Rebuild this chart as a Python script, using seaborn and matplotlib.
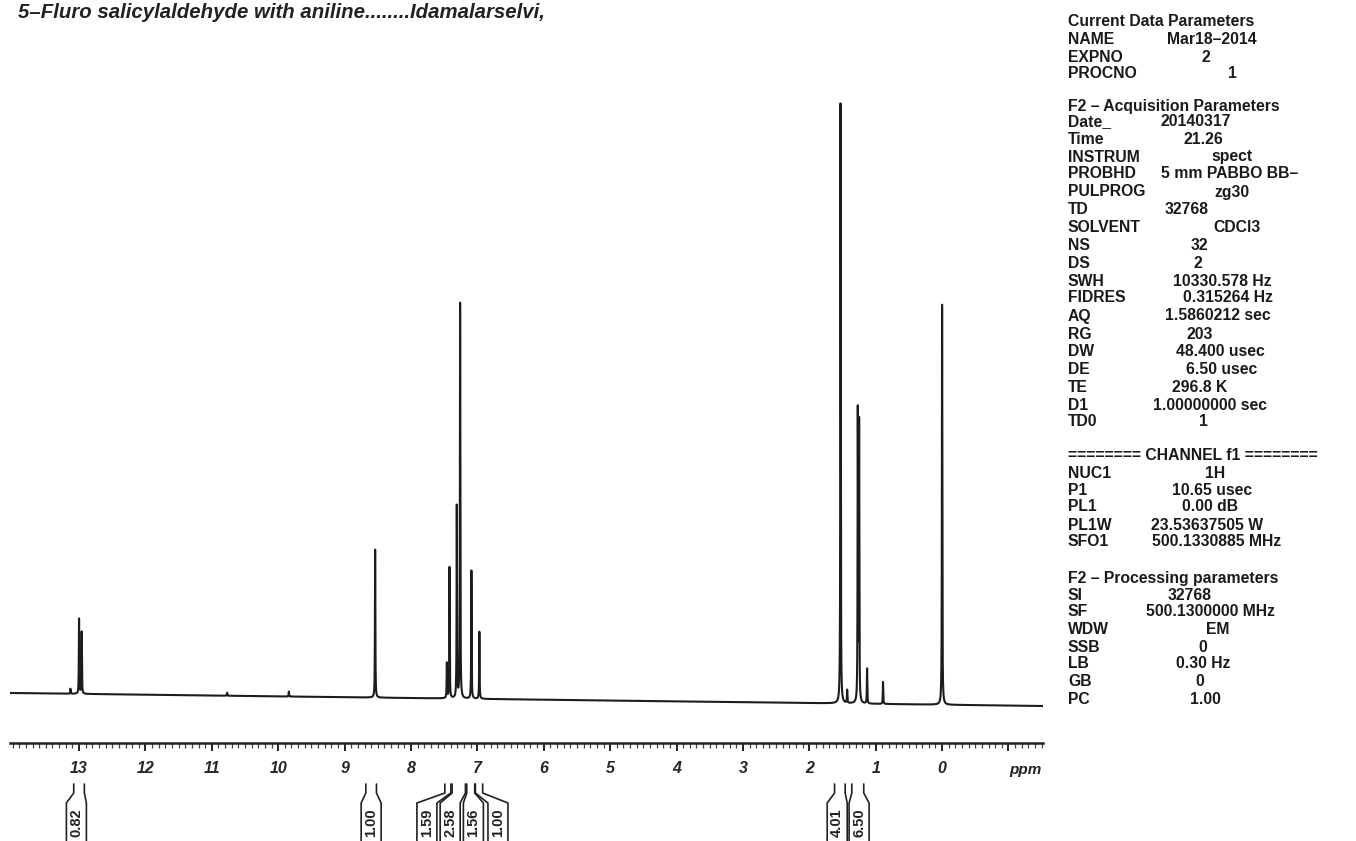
import numpy as np
import pandas as pd
import matplotlib
matplotlib.use('Agg')
import matplotlib.pyplot as plt
import matplotlib.transforms as mtransforms
from matplotlib.ticker import MultipleLocator
import seaborn as sns

sns.set_style('white')
plt.rcParams['font.family'] = ['Liberation Sans', 'DejaVu Sans']

title = '5\u2013Fluro salicylaldehyde with aniline........Idamalarselvi,'

# peak list: shift (ppm) and height (arb. units)
peak_ppm = [13.13, 13.00, 12.96, 10.77, 9.84, 8.54, 7.46, 7.42, 7.31, 7.26,
            7.09, 6.97, 1.53, 1.43, 1.27, 1.25, 1.13, 0.89, 0.00]
peak_height = [5, 75, 62, 3, 5, 148, 35, 131, 192, 395,
               128, 67, 600, 13, 290, 278, 35, 22, 400]
peak_hwhm = 0.0035
baseline_ends = [5, -8]

major_ticks = [13, 12, 11, 10, 9, 8, 7, 6, 5, 4, 3, 2, 1, 0, -1]
major_labels = ['13', '12', '11', '10', '9', '8', '7', '6', '5', '4', '3', '2', '1', '0', '']

# integrals: label, region start/end (ppm), label centre (ppm)
integ_labels = ['0.82', '1.00', '1.59', '2.58', '1.56', '1.00', '4.01', '6.50']
integ_from = [13.08, 8.68, 7.49, 7.38, 7.16, 7.03, 1.62, 1.36]
integ_to = [12.92, 8.52, 7.40, 7.18, 7.04, 6.92, 1.46, 1.18]
integ_pos = [13.04, 8.60, 7.76, 7.41, 7.06, 6.69, 1.58, 1.25]

# acquisition / processing parameter panel
param_rows = [
    ('Current Data Parameters', ''),
    ('NAME', 'Mar18\u20132014'), ('EXPNO', '2'), ('PROCNO', '1'),
    ('F2 \u2013 Acquisition Parameters', ''),
    ('Date_', '20140317'), ('Time', '21.26'), ('INSTRUM', 'spect'),
    ('PROBHD', '5 mm PABBO BB\u2013'), ('PULPROG', 'zg30'), ('TD', '32768'),
    ('SOLVENT', 'CDCl3'), ('NS', '32'), ('DS', '2'),
    ('SWH', '10330.578 Hz'), ('FIDRES', '0.315264 Hz'), ('AQ', '1.5860212 sec'),
    ('RG', '203'), ('DW', '48.400 usec'), ('DE', '6.50 usec'), ('TE', '296.8 K'),
    ('D1', '1.00000000 sec'), ('TD0', '1'),
    ('======== CHANNEL f1 ========', ''),
    ('NUC1', '1H'), ('P1', '10.65 usec'), ('PL1', '0.00 dB'),
    ('PL1W', '23.53637505 W'), ('SFO1', '500.1330885 MHz'),
    ('F2 \u2013 Processing parameters', ''),
    ('SI', '32768'), ('SF', '500.1300000 MHz'), ('WDW', 'EM'), ('SSB', '0'),
    ('LB', '0.30 Hz'), ('GB', '0'), ('PC', '1.00'),
]
param_y = [22, 40, 57, 74, 106, 122, 140, 157, 174, 192, 210, 228, 245, 263,
           281, 298, 316, 334, 352, 369, 387, 405, 422, 456, 473, 490, 507,
           525, 542, 578, 595, 612, 630, 647, 664, 682, 699]
param_xc = [0, 1212, 1206, 1232, 0, 1196, 1203, 1232, 1230, 1232, 1187, 1237,
            1199, 1198, 1222, 1228, 1218, 1200, 1220, 1222, 1200, 1210, 1203,
            0, 1215, 1212, 1210, 1207, 1217, 0, 1190, 1211, 1218, 1203, 1203,
            1200, 1205]

W, H = 1356, 841
xlo, xhi = 14.04, -1.52

ppm = np.linspace(xlo, xhi, 31121)
pk = np.array(peak_ppm)[None, :]
hh = np.array(peak_height)[None, :]
lor = hh * peak_hwhm ** 2 / ((ppm[:, None] - pk) ** 2 + peak_hwhm ** 2)
spec = np.linspace(baseline_ends[0], baseline_ends[1], ppm.size) + lor.sum(axis=1)
df = pd.DataFrame({'ppm': ppm, 'intensity': spec})

fig = plt.figure(figsize=(W / 100, H / 100), dpi=100)
ax = fig.add_axes([10 / W, 1 - 743 / H, 1033 / W, (743 - 60) / H])
sns.lineplot(data=df, x='ppm', y='intensity', ax=ax, color='#1c1c1c',
             linewidth=1.5, estimator=None, sort=False)
ax.set_xlim(xlo, xhi)
ax.set_ylim(-45, 638)
ax.set_xlabel('')
ax.set_ylabel('')
ax.set_yticks([])
for s in ['top', 'left', 'right']:
    ax.spines[s].set_visible(False)
ax.spines['bottom'].set_linewidth(1.8)
ax.spines['bottom'].set_color('#222222')

ax.set_xticks(major_ticks)
ax.set_xticklabels(major_labels)
ax.xaxis.set_minor_locator(MultipleLocator(0.1))
ax.tick_params(axis='x', which='both', bottom=True, direction='out')
ax.tick_params(axis='x', which='major', length=6, width=1.4,
               pad=7, labelsize=11.5, color='#222222')
ax.tick_params(axis='x', which='minor', length=3.5, width=0.9,
               color='#444444')
for lbl in ax.get_xticklabels():
    lbl.set_style('italic')
    lbl.set_weight('bold')

blend = mtransforms.blended_transform_factory(ax.transData, fig.transFigure)


def fy(ypx):
    return 1 - ypx / H


ax.text(-1.26, fy(770), 'ppm', transform=blend, ha='center', va='center',
        fontsize=11, style='italic', weight='bold', color='#222222')

# integral brackets
half = 10 / 66.4
for lab, a, b, c in zip(integ_labels, integ_from, integ_to, integ_pos):
    for edge, side in [(a, c + half), (b, c - half)]:
        ax.plot([edge, edge, side, side], [fy(784), fy(793), fy(803), fy(845)],
                transform=blend, color='#222222', lw=1.2, clip_on=False)
    ax.text(c, fy(823), lab, transform=blend, rotation=90, ha='center',
            va='center', fontsize=10.5, weight='bold', color='#222222')

fig.text(18 / W, fy(18), title, ha='left', va='baseline', fontsize=14.7,
         style='italic', weight='bold', color='#222222')

for (lab, val), y, xc in zip(param_rows, param_y, param_xc):
    fig.text(1068 / W, fy(y), lab, ha='left', va='center', fontsize=11.3,
             weight='bold', color='#1a1a1a')
    if val:
        fig.text(xc / W, fy(y), val, ha='center', va='center', fontsize=11.3,
                 weight='bold', color='#1a1a1a')

fig.savefig('out.png', dpi=100, facecolor='white')
